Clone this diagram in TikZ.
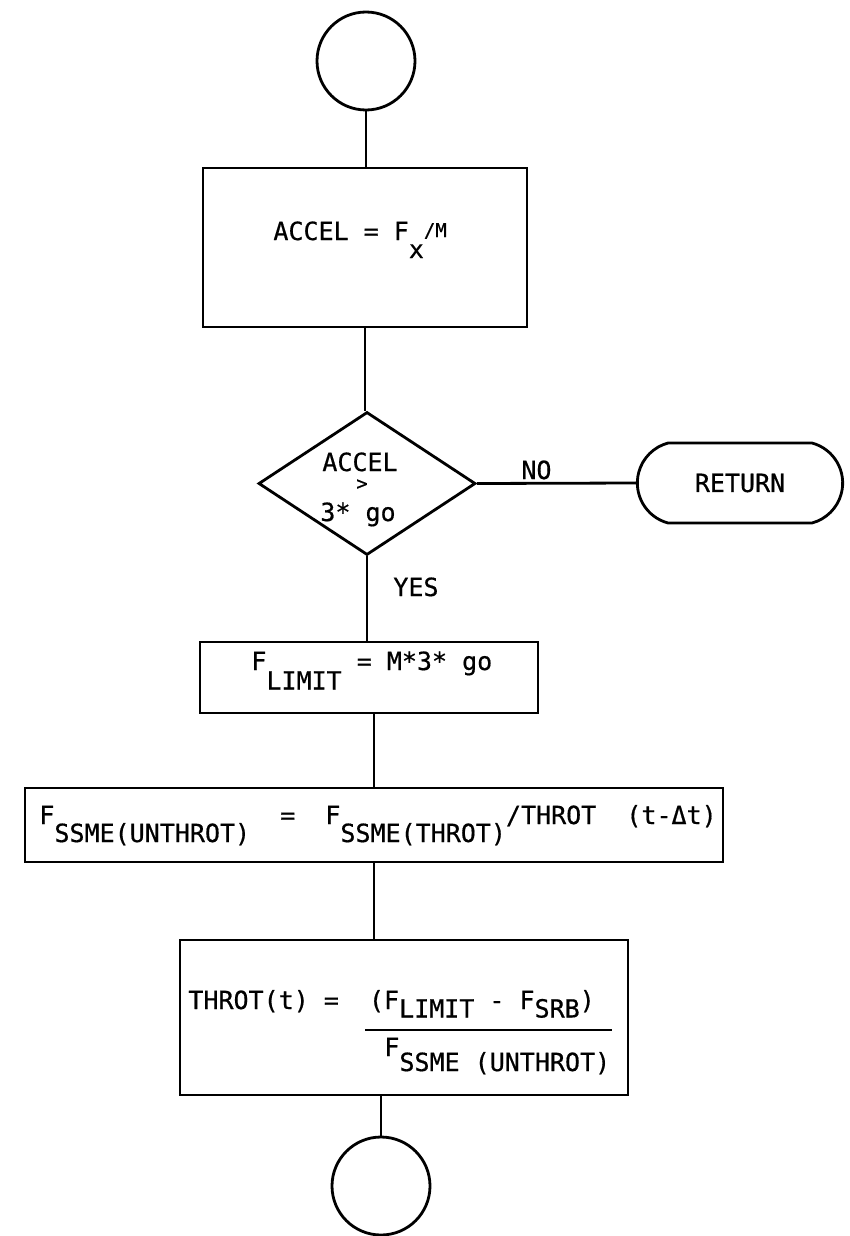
\documentclass[tikz,border=0pt]{standalone}
\usepackage{fontspec}
\setmonofont[FakeBold=0.6]{DejaVu Sans Mono}
\usetikzlibrary{shapes.geometric,shapes.misc}

% lowered index, typewriter style
\newcommand\lo[2][.72em]{\raisebox{-#1}{#2}}

\begin{document}
\begin{tikzpicture}[x=1pt,y=-1pt,line width=2.8pt,
  every node/.append style={font=\ttfamily\fontsize{25}{30}\selectfont},
  blk/.style={draw,rectangle,inner sep=0pt},
  conn/.style={draw,circle,minimum size=98pt,inner sep=0pt},
  txt/.style={anchor=base west,inner sep=0pt},
  ctxt/.style={anchor=base,inner sep=0pt}]
  \useasboundingbox (0,0) rectangle (849,1236);

  % boxes
  \node[conn] (entry) at (366,61) {};
  \node[blk,minimum width=324pt,minimum height=159pt] (accel) at (365,247.5) {};
  \node[diamond,draw,inner sep=0pt,minimum width=217pt,minimum height=143pt] (test) at (367,483.5) {};
  \node[rounded rectangle,draw,rounded rectangle arc length=150,minimum width=212pt,minimum height=80pt] (ret) at (740,483) {RETURN};
  \node[blk,minimum width=338pt,minimum height=71pt] (limit) at (369,677.5) {};
  \node[blk,minimum width=698pt,minimum height=74pt] (unthr) at (374,825) {};
  \node[blk,minimum width=448pt,minimum height=155pt] (throt) at (404,1017.5) {};
  \node[conn] (exit) at (381,1186) {};

  % texts
  \node[txt] (accel-t) at (272,240) {ACCEL = F\lo{x}\raisebox{.12em}{\fontsize{19}{19}\selectfont/M}};
  \node[ctxt] (test-a) at (360,471) {ACCEL};
  \node[ctxt,font=\ttfamily\fontsize{19}{19}\selectfont] (test-b) at (362,490) {>};
  \node[ctxt] (test-c) at (358,521) {3* go};
  \node[txt] (no) at (520,479) {NO};
  \node[txt] (yes) at (392,596) {YES};
  \node[txt] (limit-t) at (250,670) {F\lo[.78em]{LIMIT} = M*3* go};
  \node[txt] (unthr-t) at (38,824) {F\lo{SSME(UNTHROT)}~~=~~F\lo{SSME(THROT)}/THROT~~(t-Δt)};
  \node[txt] (throt-t) at (187,1009) {THROT(t)~=~~(F\lo[.34em]{LIMIT} - F\lo[.34em]{SRB})};
  \node[txt] (throt-d) at (383,1056) {F\lo[.6em]{SSME (UNTHROT)}};
  \draw[line width=2pt] (365,1030) -- (612,1030);

  % flow lines
  \draw (entry.south) -- (entry.south |- accel.north);
  \draw (accel.south) -- (accel.south |- test.north);
  \draw (test.east) -- (ret.west);
  \draw (test.south) -- (test.south |- limit.north);
  \draw (limit.south -| unthr.north) -- (unthr.north);
  \draw (unthr.south) -- (unthr.south |- throt.north);
  \draw (throt.south -| exit.north) -- (exit.north);
\end{tikzpicture}
\end{document}
